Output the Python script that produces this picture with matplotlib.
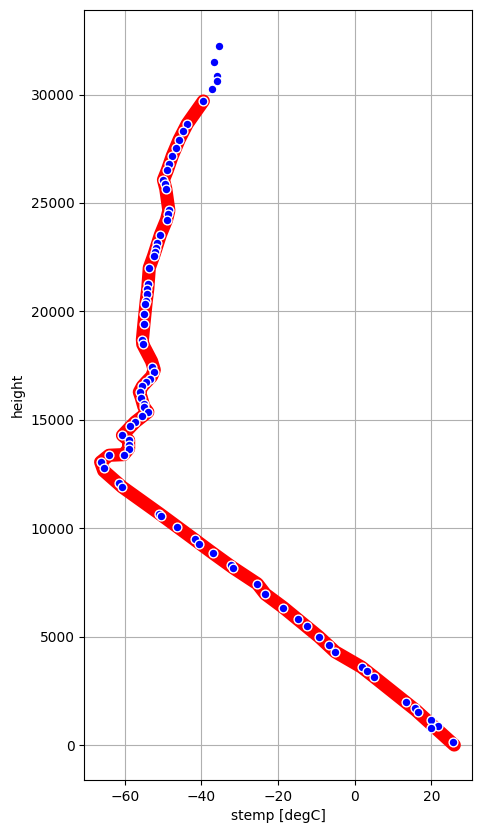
import matplotlib
matplotlib.use('Agg')
import matplotlib.pyplot as plt

# perfil "denso" (faixa vermelha) - vertices
red_temp = [26.0, 16.0, 5.0, 1.8, -5.1, -9.3, -18.6, -23.3, -25.4, -31.7, -36.9,
            -46.4, -51.0, -60.7, -65.5, -66.3, -64.1, -60.3, -59.0, -59.0, -60.6,
            -57.3, -55.4, -54.0, -55.0, -55.7, -56.2, -55.4, -54.4, -53.0, -52.3,
            -53.0, -55.3, -55.4, -55.0, -54.4, -54.0, -53.6, -52.5, -50.7, -49.1,
            -48.5, -49.3, -49.9, -48.9, -47.6, -45.8, -43.7, -41.5, -39.5]
red_height = [0, 1600, 3150, 3594, 4300, 4990, 6340, 6958, 7436, 8170, 8834,
              10077, 10677, 11903, 12650, 13050, 13363, 13393, 13670, 14054, 14285,
              14897, 15160, 15359, 15589, 16022, 16280, 16543, 16741, 17000, 17300,
              17700, 18478, 18695, 19432, 20474, 21045, 22012, 22547, 23533, 24224,
              24653, 25653, 26067, 26510, 27173, 27924, 28648, 29200, 29700]

# pontos azuis
stemp = [-35.3, -36.6, -35.9, -35.9, -37.2, -39.5, -43.7, -44.7, -45.8, -46.5,
         -47.6, -48.4, -48.9, -49.9, -49.6, -49.3, -48.5, -48.8, -49.1, -50.7,
         -51.5, -51.8, -52.2, -52.5, -53.6, -54.0, -54.1, -54.2, -54.4, -54.7,
         -54.9, -55.0, -55.4, -55.3, -52.9, -52.5, -53.4, -54.4, -55.4, -56.0,
         -55.7, -55.1, -55.0, -54.0, -55.4, -57.3, -58.6, -60.6, -59.0, -59.0,
         -59.0, -60.3, -64.1, -66.1, -65.5, -61.4, -60.7, -51.0, -50.5, -46.4,
         -41.8, -40.6, -36.9, -32.4, -31.7, -25.4, -23.3, -18.6, -14.7, -12.5,
         -9.3, -6.7, -5.1, 1.8, 3.2, 5.0, 13.5, 15.7, 16.5, 20.0,
         21.7, 20.0, 25.8]
height = [32256, 31505, 30874, 30611, 30261, 29700, 28648, 28307, 27924, 27542,
          27173, 26804, 26510, 26067, 25883, 25653, 24653, 24500, 24224, 23533,
          23164, 22934, 22731, 22547, 22012, 21275, 21045, 20814, 20474, 20321,
          19893, 19432, 18695, 18478, 17432, 17202, 16897, 16741, 16543, 16280,
          16022, 15746, 15589, 15359, 15160, 14897, 14713, 14285, 14054, 13824,
          13670, 13393, 13363, 13073, 12779, 12105, 11903, 10677, 10552, 10077,
          9492, 9248, 8834, 8281, 8170, 7436, 6958, 6340, 5806, 5483,
          4990, 4608, 4300, 3594, 3410, 3148, 1997, 1690, 1536, 1152,
          876, 769, 124]

fig = plt.figure(figsize=(4.81, 8.33), dpi=100)
ax = fig.add_axes([0.175, 0.0636, 0.806, 0.9244])

ax.plot(red_temp, red_height, color='red', lw=9.5,
        solid_capstyle='round', solid_joinstyle='round')
ax.scatter(stemp, height, s=40, color='blue', edgecolors='white', linewidths=1.0, zorder=3)

ax.set_xlim(-70.6, 30.6)
ax.set_ylim(-1615, 33900)
ax.grid(True)
ax.set_xlabel('stemp [degC]')
ax.set_ylabel('height')

fig.savefig('out.png', dpi=100)
